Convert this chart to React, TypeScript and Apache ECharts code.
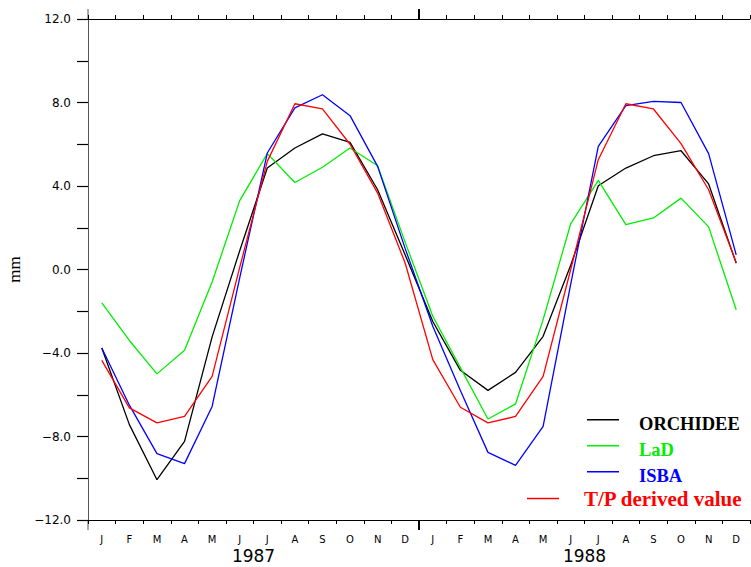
import React, { useEffect, useRef } from "react";
import * as echarts from "echarts";

const monthLetters = ["J", "F", "M", "A", "M", "J", "J", "A", "S", "O", "N", "D"];
const years = ["1987", "1988"];
const categories = years.flatMap((y) => monthLetters.map((m, i) => `${m}-${i}-${y}`));

const orchidee = [-3.76, -7.43, -10.07, -8.23, -3.23, 0.9, 4.86, 5.82, 6.5, 6.09, 3.82, 0.7,
  -2.49, -4.83, -5.79, -4.93, -3.2, 0.2, 4.01, 4.86, 5.45, 5.69, 4.1, 0.3];
const lad = [-1.6, -3.4, -5.0, -3.87, -0.6, 3.3, 5.55, 4.17, 4.9, 5.82, 4.97, 1.3,
  -2.24, -4.7, -7.16, -6.44, -2.4, 2.19, 4.27, 2.15, 2.47, 3.42, 2.04, -1.93];
const isba = [-3.76, -6.5, -8.82, -9.3, -6.56, -0.4, 5.58, 7.74, 8.37, 7.37, 4.94, 1.0,
  -2.72, -5.8, -8.76, -9.38, -7.52, -0.7, 5.9, 7.85, 8.05, 8.0, 5.55, 0.7];
const tp = [-4.35, -6.63, -7.35, -7.04, -5.12, 0.1, 5.18, 7.94, 7.69, 6.0, 3.66, 0.3,
  -4.32, -6.6, -7.35, -7.04, -5.12, 0.0, 5.26, 7.94, 7.69, 6.03, 3.82, 0.34];

const seriesNames = ["ORCHIDEE", "LaD", "ISBA", "T/P derived value"];
const seriesColors = ["#000000", "#00ee00", "#0000ff", "#ff0000"];
const seriesData = [orchidee, lad, isba, tp];

const yMin = -12;
const yMax = 12;
const yStep = 2;
const yLabelStep = 4;

const fmtY = (v: number) => {
  if (Math.round(v) % yLabelStep !== 0) return "";
  return (v < 0 ? "\u2212" : "") + Math.abs(v).toFixed(1);
};

export default function App() {
  const ref = useRef<HTMLDivElement>(null);
  useEffect(() => {
    if (!ref.current) return;
    const chart = echarts.init(ref.current, null, { renderer: "svg" });
    const sans = "DejaVu Sans";
    const serif = "Liberation Serif";
    // line drawn in the upper part of the icon box, so it sits a little above the text centre
    const raisedLine = "path://M0,0H32V1.5H0Z M31.99,8.99H32V9H31.99Z";
    const legendPos = [
      { left: 587, top: 414, size: 18.5, icon: raisedLine, h: 9, pad: [0, 0, 0, 15] },
      { left: 587, top: 440, size: 18.5, icon: raisedLine, h: 9, pad: [0, 0, 0, 15] },
      { left: 587, top: 466, size: 18.5, icon: raisedLine, h: 9, pad: [0, 0, 0, 15] },
      { left: 527, top: 488, size: 21, icon: "rect", h: 1.5, pad: [0, 0, 0, 20] },
    ];
    const option: any = {
      animation: false,
      backgroundColor: "#ffffff",
      grid: { left: 88, right: 1, top: 19, bottom: 47, containLabel: false, outerBoundsMode: "none" },
      legend: seriesNames.map((n, i) => ({
        data: [n],
        left: legendPos[i].left,
        top: legendPos[i].top,
        padding: 0,
        icon: legendPos[i].icon,
        itemWidth: 32,
        itemHeight: legendPos[i].h,
        selectedMode: false,
        textStyle: {
          fontFamily: serif,
          fontWeight: "bold",
          fontSize: legendPos[i].size,
          color: seriesColors[i],
          padding: legendPos[i].pad,
        },
      })),
      xAxis: [
        {
          type: "category",
          data: categories,
          position: "bottom",
          boundaryGap: true,
          axisLine: { onZero: false, lineStyle: { color: "#000", width: 1 } },
          axisTick: { show: true, inside: false, length: 4, interval: 0, lineStyle: { color: "#000" } },
          axisLabel: {
            interval: 0,
            margin: 14,
            fontFamily: sans,
            fontSize: 10,
            color: "#000",
            formatter: (v: string) => v.split("-")[0],
          },
          splitLine: { show: false },
        },
        {
          type: "category",
          data: categories,
          position: "top",
          boundaryGap: true,
          axisLine: { onZero: false, lineStyle: { color: "#000", width: 1 } },
          axisTick: { show: true, inside: false, length: 4, interval: 0, lineStyle: { color: "#000" } },
          axisLabel: { show: false },
          splitLine: { show: false },
        },
      ],
      yAxis: {
        type: "value",
        min: yMin,
        max: yMax,
        interval: yStep,
        name: "mm",
        nameLocation: "middle",
        nameRotate: 90,
        nameGap: 63,
        nameTextStyle: { fontFamily: serif, fontSize: 17, color: "#000" },
        axisLine: { show: true, onZero: false, lineStyle: { color: "#555", width: 1 } },
        axisTick: { show: true, inside: false, length: 11, lineStyle: { color: "#000", width: 1.2 } },
        axisLabel: { margin: 17, fontFamily: sans, fontSize: 12, color: "#000", formatter: fmtY },
        splitLine: { show: false },
      },
      series: seriesNames.map((n, i) => ({
        name: n,
        type: "line",
        xAxisIndex: 0,
        data: seriesData[i],
        symbol: "none",
        lineStyle: { color: seriesColors[i], width: 1.3 },
        itemStyle: { color: seriesColors[i] },
        z: 2 + i,
      })),
    };
    chart.setOption(option);

    const px = (i: number) => chart.convertToPixel({ xAxisIndex: 0 }, i) as number;
    const py = (v: number) => chart.convertToPixel({ yAxisIndex: 0 }, v) as number;
    const half = (px(1) - px(0)) / 2;
    const xLeft = px(0) - half;
    const yTop = py(yMax);
    const yBot = py(yMin);
    const xYear = (px(11) + px(12)) / 2;
    const ext = 10;
    const graphics: any[] = [
      { type: "line", shape: { x1: xLeft, y1: yTop - ext, x2: xLeft, y2: yTop }, style: { stroke: "#555", lineWidth: 1 } },
      { type: "line", shape: { x1: xLeft, y1: yBot, x2: xLeft, y2: yBot + ext }, style: { stroke: "#555", lineWidth: 1 } },
      { type: "line", shape: { x1: xYear, y1: yBot, x2: xYear, y2: yBot + ext }, style: { stroke: "#000", lineWidth: 2 } },
      { type: "line", shape: { x1: xYear, y1: yTop - ext, x2: xYear, y2: yTop }, style: { stroke: "#000", lineWidth: 2 } },
    ];
    years.forEach((yr, k) => {
      const cx = (px(k * 12 + 5) + px(k * 12 + 6)) / 2;
      graphics.push({
        type: "text",
        x: cx,
        y: yBot + 36,
        style: {
          text: yr,
          fontFamily: sans,
          fontSize: 17,
          fill: "#000",
          align: "center",
          verticalAlign: "middle",
        },
      });
    });
    chart.setOption({ graphic: graphics });

    return () => chart.dispose();
  }, []);
  return <div ref={ref} style={{ position: "absolute", left: 0, top: 0, width: 751, height: 567 }} />;
}
